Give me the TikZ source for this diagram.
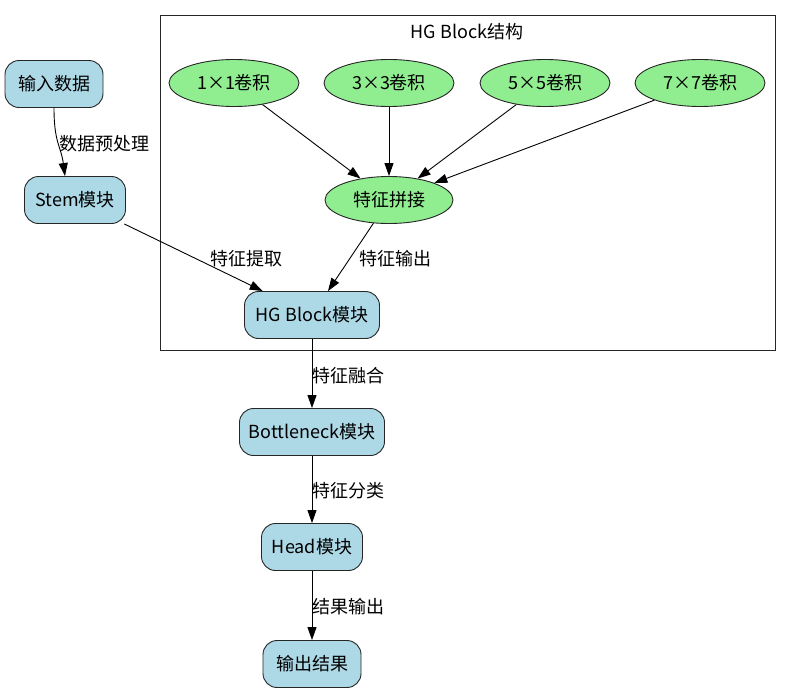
\documentclass[tikz,border=0pt]{standalone}
\usepackage{fontspec}
\setmainfont{Noto Sans CJK SC}
\usetikzlibrary{arrows.meta,calc,shapes.geometric}
\definecolor{nodeblue}{RGB}{173,216,230}
\definecolor{nodegreen}{RGB}{144,238,144}
\begin{document}
\begin{tikzpicture}[x=1pt,y=-1pt,
  every node/.style={font=\fontsize{18}{21}\selectfont},
  bluebox/.style={draw=black!85,fill=nodeblue,rounded corners=14pt,minimum height=47pt,inner sep=0pt,line width=0.9pt},
  greenell/.style={draw=black!85,fill=nodegreen,ellipse,minimum width=130pt,minimum height=47pt,inner sep=0pt,line width=0.9pt},
  arr/.style={-{Triangle[length=13pt,width=9pt]},line width=0.9pt},
  lbl/.style={inner sep=0pt}]
\useasboundingbox (0,0) rectangle (791,694);
\node[draw=black!85,line width=0.9pt,minimum width=615pt,minimum height=335pt,inner sep=0pt] (cluster) at (467.5,182.5) {};
\node[lbl] (title) at (467,32) {HG Block结构};
\node[bluebox,minimum width=98pt] (in) at (54,84) {输入数据};
\node[bluebox,minimum width=101pt] (st) at (75,200) {Stem模块};
\node[greenell] (c1) at (234,83) {1×1卷积};
\node[greenell] (c3) at (389,83) {3×3卷积};
\node[greenell] (c5) at (545,83) {5×5卷积};
\node[greenell] (c7) at (700,83) {7×7卷积};
\node[greenell,minimum width=128pt] (cat) at (389,200) {特征拼接};
\node[bluebox,minimum width=135pt] (hg) at (312,315) {HG Block模块};
\node[bluebox,minimum width=145pt] (bn) at (312,432) {Bottleneck模块};
\node[bluebox,minimum width=101pt] (hd) at (312,547) {Head模块};
\node[bluebox,minimum width=98pt] (out) at (312,664) {输出结果};
\draw[arr] (in.south) .. controls +(0,35) and +(-4,-30) .. ([xshift=-10pt]st.north);
\node[lbl,anchor=west] (l0) at (59,144) {数据预处理};
\draw[arr] (c1) -- (cat);
\draw[arr] (c3) -- (cat);
\draw[arr] (c5) -- (cat);
\draw[arr] (c7) -- (cat);
\draw[arr] (st) -- (hg);
\node[lbl] (l1) at (246,259) {特征提取};
\draw[arr] (cat) -- (hg);
\node[lbl] (l2) at (395,259) {特征输出};
\draw[arr] (hg) -- (bn);
\node[lbl,anchor=west] (l3) at (312,376) {特征融合};
\draw[arr] (bn) -- (hd);
\node[lbl,anchor=west] (l4) at (312,491) {特征分类};
\draw[arr] (hd) -- (out);
\node[lbl,anchor=west] (l5) at (312,607) {结果输出};
\end{tikzpicture}
\end{document}
